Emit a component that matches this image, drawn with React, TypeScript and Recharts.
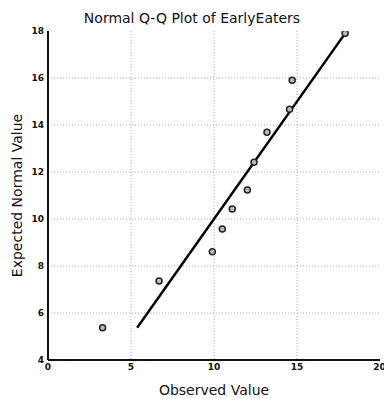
import React from 'react';
import { ScatterChart, Scatter, XAxis, YAxis, CartesianGrid, ReferenceLine, Label } from 'recharts';

const observed = [3.29, 6.69, 9.9, 10.5, 11.1, 12.01, 12.41, 13.19, 14.55, 14.71, 17.9];
const expected = [5.37, 7.36, 8.61, 9.57, 10.43, 11.23, 12.41, 13.69, 14.67, 15.9, 17.9];
const xTicks = [0, 5, 10, 15, 20];
const yTicks = [4, 6, 8, 10, 12, 14, 16, 18];
const lineStart = 5.37;
const lineEnd = 17.9;

const points = observed.map((x, i) => ({ x, y: expected[i] }));

const font = 'DejaVu Sans, sans-serif';

const Dot = (props: any) => {
  const { cx, cy } = props;
  return <circle cx={cx} cy={cy} r={3} fill="#bbb" stroke="#222" strokeWidth={1.5} />;
};

export default function App() {
  return (
    <div style={{ position: 'absolute', left: 0, top: 0, width: 384, height: 399, background: '#fff' }}>
      <div
        style={{
          position: 'absolute',
          left: 0,
          top: 9,
          width: 384,
          textAlign: 'center',
          fontFamily: font,
          fontSize: 14,
          color: '#111',
          lineHeight: '18px',
        }}
      >
        Normal Q-Q Plot of EarlyEaters
      </div>
      <ScatterChart width={384} height={399} margin={{ top: 31, right: 4, bottom: 0, left: 0 }}>
        <CartesianGrid
          stroke="#aaa"
          strokeDasharray="1 2"
          horizontalValues={[6, 8, 10, 12, 14, 16]}
          verticalValues={[5, 10, 15]}
        />
        <XAxis
          type="number"
          dataKey="x"
          domain={[0, 20]}
          ticks={xTicks}
          height={39}
          tickSize={0}
          tickMargin={4}
          axisLine={{ stroke: '#111', strokeWidth: 2 }}
          tick={{ fill: '#111', fontSize: 9, fontFamily: font, fontWeight: 'bold' }}
          allowDataOverflow
        >
          <Label
            value="Observed Value"
            position="insideBottom"
            offset={4}
            style={{ fontFamily: font, fontSize: 14, fill: '#111' }}
          />
        </XAxis>
        <YAxis
          type="number"
          dataKey="y"
          domain={[4, 18]}
          ticks={yTicks}
          width={48}
          tickSize={0}
          tickMargin={4}
          axisLine={{ stroke: '#111', strokeWidth: 2 }}
          tick={{ fill: '#111', fontSize: 9, fontFamily: font, fontWeight: 'bold' }}
          allowDataOverflow
        >
          <Label
            value="Expected Normal Value"
            angle={-90}
            position="insideLeft"
            offset={17}
            style={{ fontFamily: font, fontSize: 14, fill: '#111', textAnchor: 'middle' }}
          />
        </YAxis>
        <ReferenceLine
          segment={[
            { x: lineStart, y: lineStart },
            { x: lineEnd, y: lineEnd },
          ]}
          stroke="#000"
          strokeWidth={2.5}
          ifOverflow="visible"
        />
        <Scatter data={points} shape={<Dot />} isAnimationActive={false} />
      </ScatterChart>
    </div>
  );
}
